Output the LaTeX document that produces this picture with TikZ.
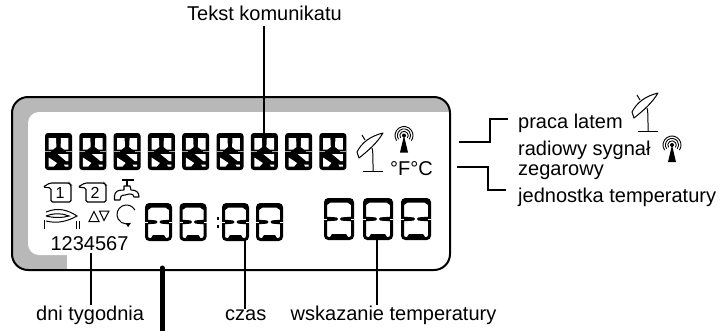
\documentclass[tikz,border=0pt]{standalone}
\usepackage{fontspec}
\setmainfont{Liberation Sans}
\usetikzlibrary{arrows.meta}

\tikzset{
    lbl/.style={inner sep=0pt, font=\fontsize{20}{20}\selectfont, anchor=base west},
    lead/.style={line width=1.3pt},
    segbig/.pic={
        \fill[black, rounded corners=3pt] (0,0) rectangle (27,37);
        \fill[white] (3.6,5) -- (11,5) -- (11.4,14) -- (8,16.5) -- (3.6,16.5) -- cycle;
        \fill[white] (23.4,5) -- (16,5) -- (15.6,14) -- (19,16.5) -- (23.4,16.5) -- cycle;
        \fill[white] (12.5,21) -- (23.4,21) -- (23.4,28) -- (21,28) -- cycle;
        \fill[white] (3.6,24.5) -- (12,30) -- (9,33.5) -- (3.6,33.5) -- cycle;
        \fill[white] (19,31.5) -- (23.4,31.5) -- (23.4,33.5) -- (20,33.5) -- cycle;
        \draw[gray!70, line width=0.3pt] (0,18.5) -- (6,18.5) (21,18.5) -- (27,18.5);
    },
    segsmall/.pic={
        \draw[black, line width=3pt, rounded corners=3pt] (1.5,1.5) rectangle (\segw-1.5,\segh-1.5);
        \fill[black] (1.5,1.5) -- (\segw-1.5,1.5) -- (\segw-3,7) -- (\segw-6.5,4.5) -- (6.5,4.5) -- (3,7) -- cycle;
        \fill[black] (5,\segh-1.5) -- (\segw-5,\segh-1.5) -- (\segw-8,\segh-6) -- (8,\segh-6) -- cycle;
        \fill[black] (1.5,\segh/2-2.4) -- (\segw/2-2.5,\segh/2-1.6) -- (\segw/2-1,\segh/2) -- (\segw/2-2.5,\segh/2+1.6) -- (1.5,\segh/2+2.4) -- cycle;
        \fill[black] (\segw-1.5,\segh/2-2.4) -- (\segw/2+2.5,\segh/2-1.6) -- (\segw/2+1,\segh/2) -- (\segw/2+2.5,\segh/2+1.6) -- (\segw-1.5,\segh/2+2.4) -- cycle;
        \draw[white, line width=0.3pt] (0,\segh/2) -- (3,\segh/2) (\segw,\segh/2) -- (\segw-3,\segh/2);
    },
    dish/.pic={
        \draw[line width=1pt, line join=round] (0,19) .. controls (5,9) and (14,3) .. (26,0) .. controls (20,10) and (12,17) .. (2,25) -- cycle;
        \draw[line width=1pt] (5,2) -- (8,7);
        \draw[line width=1pt] (15,15) .. controls (16,18) and (16,22) .. (16,38);
        \draw[line width=1pt] (6,38) -- (26,38);
    },
    mast/.pic={
        \fill (0,-17) -- (4,0) -- (-4,0) -- cycle;
        \fill (0,-17) circle (2);
        \draw[line width=0.9pt] (0,-17) ++(145:4.2) arc[start angle=145, end angle=395, radius=4.2];
        \draw[line width=0.9pt] (0,-17) ++(145:6.6) arc[start angle=145, end angle=395, radius=6.6];
        \draw[line width=0.9pt] (0,-17) ++(145:9) arc[start angle=145, end angle=395, radius=9];
    },
    memtag/.pic={
        \draw[line width=1.1pt, rounded corners=1.5pt] (8,19) -- (8,5) -- (0,4) -- (7,0) -- (26,0) -- (28,2) -- (28,19) -- cycle;
    }
}

\begin{document}
\begin{tikzpicture}[x=1pt, y=-1pt]
    \useasboundingbox (0,0) rectangle (722,330);

    % display frame
    \fill[black!28, rounded corners=16pt] (12,97) -- (450,97) -- (450,270) -- (12,270) -- cycle;
    \fill[white] (67,255) rectangle (450,271);
    \fill[white, rounded corners=11pt] (28,112) -- (470,112) -- (470,255) -- (28,255) -- cycle;
    \fill[white] (430,112) rectangle (451,271);
    \draw[line width=2pt, rounded corners=16pt] (12,97) -- (450,97) -- (450,270) -- (12,270) -- cycle;

    % upper row of digits
    \foreach \i in {0,...,8} {
        \pic at ({45+34.3*\i},133) {segbig};
    }

    % lower digits
    \def\segw{27}\def\segh{38}
    \foreach \xpos in {145,179.5,222,256} {
        \pic at (\xpos,203) {segsmall};
    }
    \fill (216.5,217) rectangle (219,220);
    \fill (216.5,225) rectangle (219,228);
    \def\segw{30}\def\segh{42}
    \foreach \xpos in {324,363,401} {
        \pic at (\xpos,198) {segsmall};
    }

    % icons left
    \pic at (43,183) {memtag};
    \pic at (78,183) {memtag};
    \node[inner sep=0pt, font=\fontsize{16}{16}\selectfont] (one) at (60,193) {1};
    \node[inner sep=0pt, font=\fontsize{16}{16}\selectfont] (two) at (95,193) {2};

    \draw[line width=1.1pt, line join=round] (114.5,200) -- (114.5,196) .. controls (115,191) and (118,190) .. (124,190) -- (124,186) -- (130,186) -- (131,190) .. controls (136,190) and (139,192) .. (139,197) -- (134,197) .. controls (134,194) and (132,194) .. (129,194) -- (125,195) .. controls (121,195) and (120,197) .. (120,200) -- cycle;
    \draw[line width=2.4pt] (122,180) -- (134,180);
    \draw[line width=1.1pt] (127,180) -- (127,186);

    \draw[line width=1pt] (46,212) .. controls (58,207) and (68,210) .. (77,216) .. controls (68,221) and (58,224) .. (46,221);
    \draw[line width=1pt] (46,216) .. controls (54,213) and (62,213) .. (69,216) .. controls (62,218) and (54,218) .. (46,216);
    \draw[line width=1pt] (44,220) -- (44,229);
    \draw[line width=1pt] (76,221) -- (76,229) (79.5,221) -- (79.5,229);

    \draw[line width=1pt] (94,211.5) -- (99,221.5) -- (89,221.5) -- cycle;
    \draw[line width=1pt] (99.5,211) -- (109,211) -- (104,220.5) -- cycle;
    \draw[line width=1pt, -{Latex[length=5pt,width=5pt]}] (134.9,210) arc[start angle=-28, end angle=-300, radius=9.5];

    % icons right
    \pic at (357,133) {dish};
    \pic at (404,152.5) {mast};
    \node[lbl] (unit) at (390,175) {°F°C};

    % labels
    \node[inner sep=0pt, font=\fontsize{20}{20}\selectfont, anchor=base] (wk) at (89.5,250.5) {1234567};
    \node[lbl] (tk) at (187,20) {Tekst komunikatu};
    \node[lbl] (dt) at (36,320) {dni tygodnia};
    \node[lbl] (cz) at (225,320) {czas};
    \node[lbl] (wt) at (290.5,320) {wskazanie temperatury};
    \node[lbl] (pl) at (518,128) {praca latem};
    \node[lbl] (rs) at (518,155) {radiowy sygnał};
    \node[lbl] (zg) at (518,175) {zegarowy};
    \node[lbl] (jt) at (518,202) {jednostka temperatury};

    \pic at (632,93) {dish};
    \begin{scope}[shift={(672,162)}, scale=1.1]
        \pic at (0,0) {mast};
    \end{scope}

    % leaders
    \coordinate (dp) at (264,141);
    \coordinate (dw) at (91,253);
    \coordinate (dc) at (245,240);
    \coordinate (dz) at (377,237);
    \coordinate (sa) at (459,142);
    \coordinate (sb) at (457,167);
    \coordinate (ea) at (508,119);
    \coordinate (eb) at (506,190);
    \coordinate (dk) at (162,268);
    \coordinate (dl) at (162,332);

    \draw[lead] (tk.south -| dp) ++(0,6) -- (dp);
    \draw[lead] (dw) -- (dw |- dt.north);
    \draw[lead] (dc) -- (dc |- cz.north);
    \draw[lead] (dz) -- (dz |- wt.north);
    \draw[lead] (sa) -- (490,142) -- (490,119) -- (ea);
    \draw[lead] (sb) -- (488,167) -- (488,190) -- (eb);
    \draw[line width=5pt, line cap=round] (dk) -- (dl);
\end{tikzpicture}
\end{document}
